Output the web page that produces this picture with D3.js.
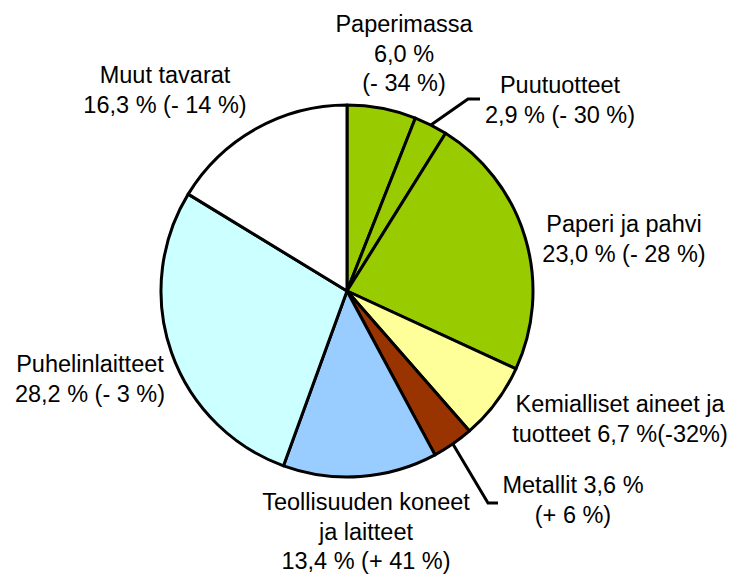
<!DOCTYPE html>
<html><head><meta charset="utf-8">
<script src="https://cdn.jsdelivr.net/npm/d3@7"></script>
<style>body{margin:0;background:#fff}svg{display:block}</style>
</head><body>
<script>
const categories = ["Paperimassa","Puutuotteet","Paperi ja pahvi","Kemialliset aineet ja tuotteet","Metallit","Teollisuuden koneet ja laitteet","Puhelinlaitteet","Muut tavarat"];
const shares = [6.0, 2.9, 23.0, 6.7, 3.6, 13.4, 28.2, 16.3];
const labelLines = [
  ["Paperimassa","6,0 %","(- 34 %)"],
  ["Puutuotteet","2,9 % (- 30 %)"],
  ["Paperi ja pahvi","23,0 % (- 28 %)"],
  ["Kemialliset aineet ja","tuotteet 6,7 %(-32%)"],
  ["Metallit 3,6 %","(+ 6 %)"],
  ["Teollisuuden koneet","ja laitteet","13,4 % (+ 41 %)"],
  ["Puhelinlaitteet","28,2 % (- 3 %)"],
  ["Muut tavarat","16,3 % (- 14 %)"]
];
const colors = ["#99CC00","#99CC00","#99CC00","#FFFF99","#993300","#99CCFF","#CCFFFF","#FFFFFF"];
// label anchor positions (center x, first baseline y)
const labelPos = [[404,32],[560,93],[624,232],[620,412],[573,493],[366,510],[90,372],[165,83]];

const W=732,H=574, cx=347, cy=291, R=186;
const svg=d3.select("body").append("svg").attr("width",W).attr("height",H);
const pie=d3.pie().sort(null).value(d=>d)(shares);
const arc=d3.arc().innerRadius(0).outerRadius(R);
const g=svg.append("g").attr("transform",`translate(${cx},${cy})`);
g.selectAll("path").data(pie).join("path")
  .attr("d",arc).attr("fill",(d,i)=>colors[i])
  .attr("stroke","#000").attr("stroke-width",3).attr("stroke-linejoin","round");

// leader lines
function edgePt(i,frac){const d=pie[i];const a=d.startAngle+(d.endAngle-d.startAngle)*frac;return [cx+R*Math.sin(a),cy-R*Math.cos(a)];}
const p1=edgePt(1,0.5);
svg.append("polyline").attr("points",[p1,[468,99],[480,99]].map(p=>p.join(",")).join(" "))
  .attr("fill","none").attr("stroke","#000").attr("stroke-width",3);
const p4=edgePt(4,0.5);
svg.append("polyline").attr("points",[p4,[488,503],[498,503]].map(p=>p.join(",")).join(" "))
  .attr("fill","none").attr("stroke","#000").attr("stroke-width",3);

const lineH=29.5;
labelLines.forEach((lines,i)=>{
  const t=svg.append("text").attr("text-anchor","middle")
    .attr("font-family","Liberation Sans, Arial, sans-serif").attr("font-size",23.5).attr("fill","#000");
  lines.forEach((s,j)=>t.append("tspan").attr("x",labelPos[i][0]).attr("y",labelPos[i][1]+j*lineH).text(s));
});
</script>
</body></html>
